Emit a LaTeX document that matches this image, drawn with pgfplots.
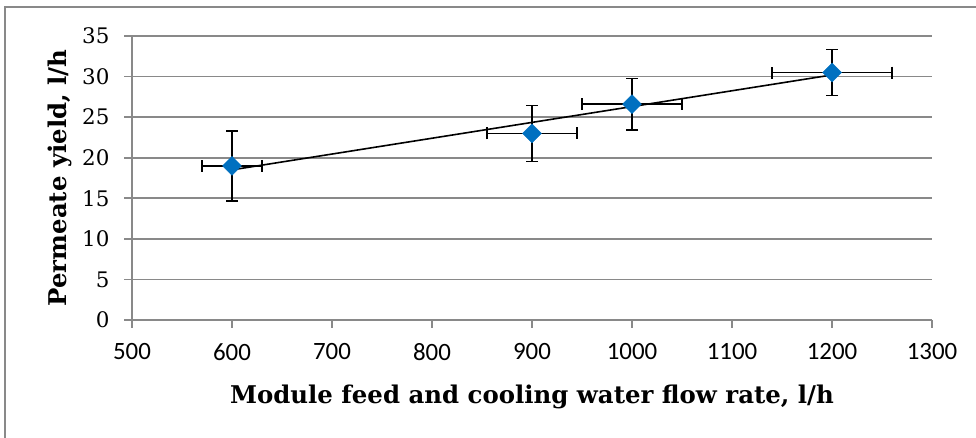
\documentclass[border=0pt]{standalone}
\usepackage{fontspec}
\setmainfont{DejaVu Serif}
\newfontfamily\carlito{Carlito}
\usepackage{pgfplots}
\pgfplotsset{compat=1.18}
\usepackage{pgfplotstable}

\definecolor{gridgray}{HTML}{898989}
\definecolor{markblue}{HTML}{0070C0}

\pgfplotstableread{
x     y     ex   ey
600   19.0  30   4.3
900   23.0  45   3.45
1000  26.6  50   3.15
1200  30.5  60   2.85
}\yielddata

\begin{document}
\begin{tikzpicture}[x=1bp,y=1bp]
\useasboundingbox (0,0) rectangle (976,438);
\draw[gridgray, line width=1.6bp] (5,-20) -- (5,431) -- (1000,431);
\begin{axis}[
    at={(132bp,118bp)}, anchor=south west,
    width=800bp, height=284bp, scale only axis,
    xmin=500, xmax=1300, ymin=0, ymax=35,
    xtick={500,600,...,1300}, ytick={0,5,...,35},
    axis x line*=bottom, axis y line*=left,
    axis line style={gridgray, line width=1.6bp, -},
    tick style={gridgray, line width=1.6bp},
    tick align=outside,
    major tick length=8bp,
    ymajorgrids,
    grid style={gridgray, line width=1.6bp},
    /pgf/number format/assume math mode=true,
    /pgf/number format/1000 sep={},
    xticklabel style={font=\carlito\fontsize{25}{28}\selectfont, yshift=-12bp},
    yticklabel style={font=\fontsize{21.5}{24}\selectfont, xshift=-11bp},
    xlabel={\textbf{Module feed and cooling water flow rate, l/h}},
    ylabel={\textbf{Permeate yield, l/h}},
    label style={font=\fontsize{24.5}{28}\selectfont},
    xlabel style={at={(axis description cs:0.5,-0.2923)}, anchor=base},
    ylabel style={at={(axis description cs:-0.0813,0.5)}, anchor=base, rotate=0},
    clip=false,
]
\addplot[only marks, mark=square*, mark size=6.7bp,
    mark options={rotate=45, fill=markblue, draw=markblue},
    error bars/.cd, x dir=both, x explicit, y dir=both, y explicit,
    error bar style={black, line width=1.7bp},
    error mark options={black, line width=1.7bp, mark size=6bp, rotate=90}]
    table[x=x, y=y, x error=ex, y error=ey] {\yielddata};
\addplot[black, line width=1.6bp, mark=none] coordinates {(600,18.5) (1200,30.2)};
\end{axis}
\end{tikzpicture}
\end{document}
